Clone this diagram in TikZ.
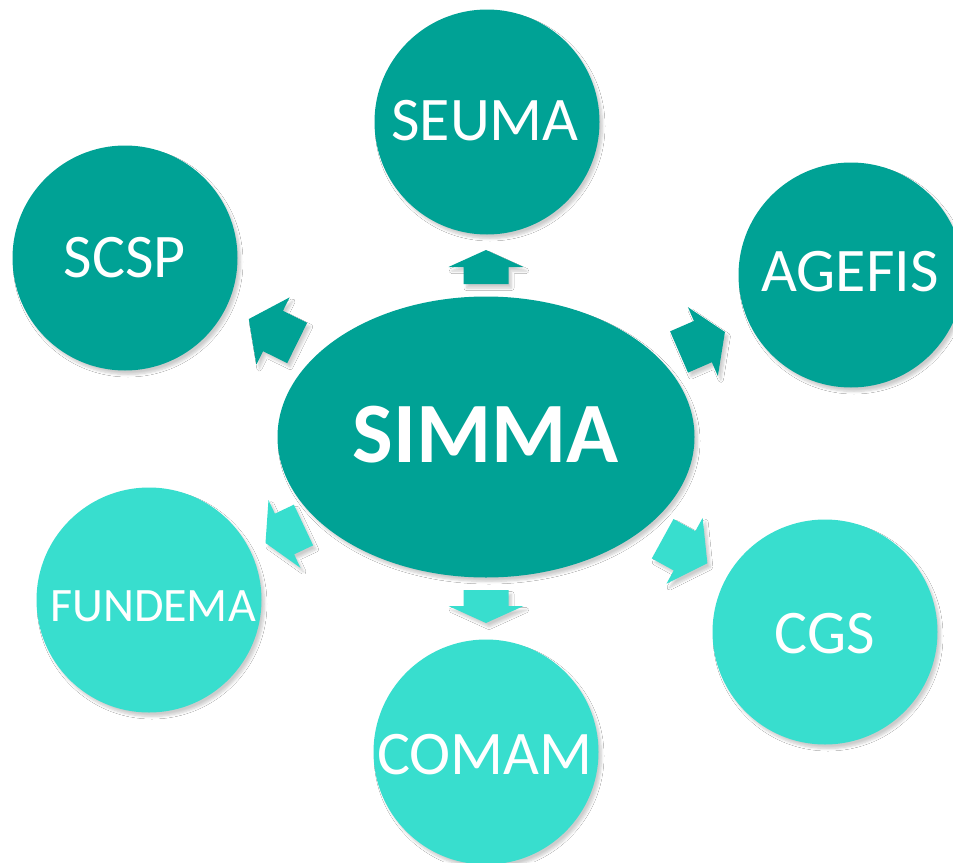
\documentclass[tikz,border=0pt]{standalone}
\usepackage{fontspec}
\setmainfont{Carlito}
\usetikzlibrary{shadows.blur,shapes.geometric}
\definecolor{darkteal}{RGB}{0,162,149}
\definecolor{lightteal}{RGB}{56,222,206}
\tikzset{
  shad/.style={blur shadow={shadow xshift=3pt, shadow yshift=-4pt, shadow blur radius=2.5pt, shadow blur steps=6, shadow opacity=20}},
  bubble/.style={circle, minimum size=225pt, inner sep=0pt, text=white, shad},
  darkbub/.style={bubble, fill=darkteal},
  lightbub/.style={bubble, fill=lightteal},
  lbl/.style={font=\fontsize{62}{70}\selectfont}
}
% block arrow: x, y, angle, length, head length, colour
\newcommand{\blockarr}[6]{%
  \begin{scope}[shift={(#1,#2)}, rotate=#3]
    \fill[#6, shad] ({-#4/2},-22.5) -- ({#4/2-#5},-22.5) -- ({#4/2-#5},-37.5) -- ({#4/2},0)
      -- ({#4/2-#5},37.5) -- ({#4/2-#5},22.5) -- ({-#4/2},22.5) -- cycle;
  \end{scope}}
\begin{document}
\begin{tikzpicture}[x=1pt,y=-1pt]
\useasboundingbox (0,0) rectangle (953,862);
\fill[white] (0,0) rectangle (953,862);
% bubbles
\node[darkbub] (seuma) at (487,122) {};
\node[lbl,text=white] (seumat) at (485,121) {SEUMA};
\node[darkbub] (scsp) at (125,258) {};
\node[lbl,text=white] (scspt) at (125,258) {SCSP};
\node[darkbub] (agefis) at (851,275) {};
\node[lbl,text=white] (agefist) at (850,272) {AGEFIS};
\node[lightbub] (fundema) at (149,600) {};
\node[text=white,font=\fontsize{48}{56}\selectfont] (fundemat) at (153,606) {FUNDEMA};
\node[lightbub] (comam) at (486,752) {};
\node[lbl,text=white] (comamt) at (485,755) {COMAM};
\node[lightbub] (cgs) at (825,632) {};
\node[lbl,text=white] (cgst) at (825,634) {CGS};
% centre
\node[ellipse, minimum width=417pt, minimum height=281pt, inner sep=0pt, fill=darkteal, shad] (simma) at (486,437) {};
\node[text=white, font=\bfseries\fontsize{86}{96}\selectfont] (simmat) at (486,435) {SIMMA};
% arrows
\blockarr{486}{267}{90}{34}{17}{darkteal}
\blockarr{273}{331}{153.7}{54}{27}{darkteal}
\blockarr{702}{342}{23.5}{50}{24}{darkteal}
\blockarr{486}{606.5}{-90}{33}{17}{lightteal}
\blockarr{284.5}{534}{-154.7}{42}{21}{lightteal}
\blockarr{685}{551}{-28.8}{51}{26}{lightteal}
\end{tikzpicture}
\end{document}
